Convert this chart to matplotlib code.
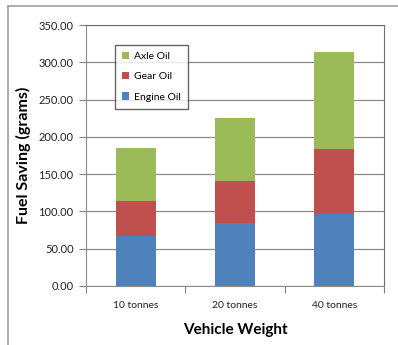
import matplotlib.pyplot as plt
from matplotlib.lines import Line2D
from matplotlib.ticker import FormatStrFormatter

categories = ['10 tonnes', '20 tonnes', '40 tonnes']
engine_oil = [67.5, 84.0, 96.5]
gear_oil = [46.0, 56.8, 87.2]
axle_oil = [71.5, 84.5, 130.5]

blue = '#4F81BD'
red = '#C0504D'
green = '#9BBB59'

plt.rcParams['font.family'] = ['Lato', 'DejaVu Sans']

fig = plt.figure(figsize=(3.98, 3.45), dpi=100)
W, H = 398, 345
ax = fig.add_axes([86 / W, 1 - 286 / H, (384 - 86) / W, (286 - 25) / H])

x = range(len(categories))
bottom2 = [a + b for a, b in zip(engine_oil, gear_oil)]
b1 = ax.bar(x, engine_oil, width=0.4, color=blue, label='Engine Oil', zorder=3)
b2 = ax.bar(x, gear_oil, width=0.4, bottom=engine_oil, color=red, label='Gear Oil', zorder=3)
b3 = ax.bar(x, axle_oil, width=0.4, bottom=bottom2, color=green, label='Axle Oil', zorder=3)

ax.set_xlim(-0.5, 2.5)
ax.set_ylim(0, 350)
ax.set_yticks(range(0, 351, 50))
ax.yaxis.set_major_formatter(FormatStrFormatter('%.2f'))
ax.grid(axis='y', color='#8c8c8c', linewidth=0.9, zorder=0)

ax.set_xticks([-0.5, 0.5, 1.5, 2.5])
ax.set_xticklabels([])
ax.set_xticks(list(x), minor=True)
ax.set_xticklabels(categories, minor=True)
ax.tick_params(axis='x', which='major', length=5, color='#808080', direction='out')
ax.tick_params(axis='x', which='minor', length=0, pad=11, labelsize=7.5, labelcolor='#222222')
ax.tick_params(axis='y', length=5, color='#808080', labelsize=8, labelcolor='#222222', pad=4)

for s in ['left', 'bottom']:
    ax.spines[s].set_color('#8c8c8c')
for s in ['top', 'right']:
    ax.spines[s].set_color('#6e6e6e')

ax.set_ylabel('Fuel Saving (grams)', fontsize=11.5, fontweight='bold', labelpad=5)
ax.set_xlabel('Vehicle Weight', fontsize=11, fontweight='bold', labelpad=9)

leg = ax.legend(handles=[b3, b2, b1], loc='upper left', bbox_to_anchor=(0.097, 0.925),
                fontsize=7.5, frameon=True, fancybox=False, edgecolor='#404040',
                handlelength=0.7, handleheight=0.7, handletextpad=0.4,
                labelspacing=1.05, borderpad=0.7, borderaxespad=0)
leg.get_frame().set_linewidth(1.0)

# outer chart frame (left and top edges visible)
fig.add_artist(Line2D([8 / W, 8 / W], [0, 1 - 6 / H], color='#a0a0a0', linewidth=1.2))
fig.add_artist(Line2D([8 / W, 1], [1 - 6 / H, 1 - 6 / H], color='#a0a0a0', linewidth=1.2))

fig.savefig('out.png', dpi=100)
